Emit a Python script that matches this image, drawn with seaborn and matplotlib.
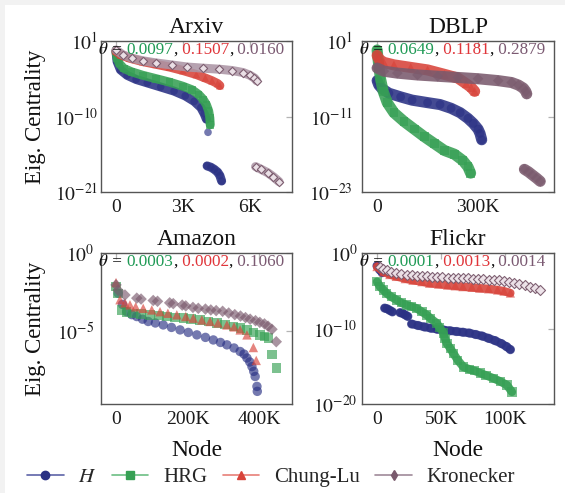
import matplotlib
matplotlib.use("Agg")
import matplotlib.pyplot as plt
import matplotlib.transforms as mtransforms
from matplotlib.lines import Line2D
from matplotlib.patches import Rectangle
from matplotlib.ticker import NullLocator
import pandas as pd
import seaborn as sns

sns.set_theme(style="white")
plt.rcParams["font.family"] = ["Liberation Serif", "DejaVu Serif"]
plt.rcParams["mathtext.fontset"] = "stix"

# ---------------------------------------------------------------- data
models = ["H", "HRG", "Chung-Lu", "Kronecker"]
legend_labels = ["$H$", "HRG", "Chung-Lu", "Kronecker"]

# Arxiv
arxiv_h_x = [0, 50, 200, 500, 900, 1400, 2000, 2600, 3100, 3500, 3800, 3950, 4050]
arxiv_h_y = [3.2e-1, 1.0e-2, 6.3e-4, 1.0e-4, 2.5e-5, 7.9e-6, 2.0e-6, 5.0e-7, 1.0e-7, 1.6e-8, 2.0e-9, 2.5e-10, 4.0e-11]
arxiv_h_drop_x = [4120]
arxiv_h_drop_y = [5.0e-13]
arxiv_h_tail_x = [4080, 4250, 4400, 4550, 4650, 4730]
arxiv_h_tail_y = [6.3e-18, 4.0e-18, 2.0e-18, 7.9e-19, 2.5e-19, 4.0e-20]
arxiv_hrg_x = [0, 50, 150, 350, 700, 1200, 1800, 2400, 3000, 3400, 3700, 3900, 4050, 4150, 4200, 4220]
arxiv_hrg_y = [3.2e-1, 3.2e-2, 5.0e-3, 1.0e-3, 3.2e-4, 1.0e-4, 3.2e-5, 1.0e-5, 2.5e-6, 7.9e-7, 1.6e-7,
               3.2e-8, 5.0e-9, 6.3e-10, 6.3e-11, 6.3e-12]
arxiv_cl_x = [0, 200, 600, 1200, 1800, 2400, 3000, 3600, 4000, 4300, 4550, 4650]
arxiv_cl_y = [3.2e-1, 1.0e-1, 3.2e-2, 1.0e-2, 4.0e-3, 1.6e-3, 5.0e-4, 1.3e-4, 4.0e-5, 1.6e-5, 6.3e-6, 3.2e-6]
arxiv_kron_x = [0, 300, 700, 1200, 1800, 2500, 3200, 3900, 4600, 5200, 5700, 6000, 6200, 6300]
arxiv_kron_y = [5.0e-1, 1.0e-1, 3.2e-2, 1.3e-2, 6.3e-3, 3.2e-3, 1.6e-3, 1.1e-3, 7.9e-4, 5.0e-4, 2.5e-4,
                1.0e-4, 4.0e-5, 1.6e-5]
arxiv_kron_tail_x = [6250, 6500, 6800, 7050, 7300]
arxiv_kron_tail_y = [5.0e-18, 2.0e-18, 6.3e-19, 1.6e-19, 3.2e-20]
arxiv_theta = ["0.0097", "0.1507", "0.0160"]
arxiv_xticks = [0, 3000, 6000]
arxiv_xticklabels = ["0", "3K", "6K"]
arxiv_yticks = [1e1, 1e-10, 1e-21]
arxiv_yticklabels = ["$10^{1}$", "$10^{-10}$", "$10^{-21}$"]

# DBLP
dblp_h_x = [0, 5e3, 15e3, 35e3, 70e3, 104e3, 150e3, 187e3, 220e3, 247e3, 270e3, 286e3, 300e3, 306e3, 311e3]
dblp_h_y = [5.0e-6, 1.0e-6, 2.5e-7, 5.0e-8, 1.3e-8, 4.0e-9, 1.6e-9, 7.9e-10, 2.0e-10, 4.0e-11, 5.0e-12,
            7.9e-13, 1.0e-13, 2.0e-14, 2.0e-15]
dblp_hrg_x = [0, 2e3, 5e3, 10e3, 18e3, 30e3, 50e3, 80e3, 110e3, 140e3, 170e3, 200e3, 230e3, 255e3, 270e3, 278e3]
dblp_hrg_y = [3.7e-1, 3.2e-2, 1.0e-3, 1.0e-5, 1.0e-7, 1.6e-9, 4.0e-11, 1.6e-12, 1.0e-13, 6.3e-15, 5.0e-16,
              4.0e-17, 1.0e-17, 1.0e-18, 1.0e-19, 1.0e-20]
dblp_cl_x = [0, 5e3, 20e3, 50e3, 100e3, 150e3, 200e3, 240e3, 265e3, 280e3, 290e3]
dblp_cl_y = [5.0e-2, 1.3e-2, 4.0e-3, 1.6e-3, 6.3e-4, 2.5e-4, 5.0e-5, 1.3e-5, 1.6e-6, 4.0e-7, 1.0e-7]
dblp_kron_x = [0, 20e3, 60e3, 120e3, 180e3, 240e3, 300e3, 360e3, 400e3, 420e3, 435e3, 442e3, 445e3]
dblp_kron_y = [5.0e-4, 1.6e-4, 7.9e-5, 4.0e-5, 2.5e-5, 1.6e-5, 1.0e-5, 5.0e-6, 2.5e-6, 1.0e-6, 3.2e-7,
               1.0e-7, 4.0e-8]
dblp_kron_tail_x = [438e3, 450e3, 462e3, 474e3, 485e3]
dblp_kron_tail_y = [4.0e-20, 1.6e-20, 5.0e-21, 1.6e-21, 5.0e-22]
dblp_theta = ["0.0649", "0.1181", "0.2879"]
dblp_xticks = [0, 300e3]
dblp_xticklabels = ["0", "300K"]
dblp_yticks = [1e1, 1e-11, 1e-23]
dblp_yticklabels = ["$10^{1}$", "$10^{-11}$", "$10^{-23}$"]

# Amazon
amazon_h_x = [6e3, 18e3, 30e3, 44e3, 58e3, 74e3, 90e3, 110e3, 132e3, 155e3, 179e3, 202e3, 226e3, 250e3,
              272e3, 292e3, 310e3, 330e3, 347e3, 358e3, 366e3, 374e3, 380e3, 385e3, 389e3, 394e3, 395e3]
amazon_h_y = [2.6e-3, 5.0e-4, 1.7e-4, 1.1e-4, 8.3e-5, 5.6e-5, 4.0e-5, 3.2e-5, 2.4e-5, 1.66e-5, 1.15e-5,
              7.9e-6, 5.5e-6, 3.8e-6, 2.6e-6, 1.8e-6, 1.26e-6, 7.9e-7, 4.7e-7, 3.2e-7, 1.8e-7, 1.0e-7,
              5.1e-8, 2.5e-8, 1.17e-8, 2.7e-9, 1.3e-9]
amazon_hrg_x = [0, 6e3, 16e3, 30e3, 48e3, 70e3, 95e3, 120e3, 142e3, 165e3, 188e3, 210e3, 235e3, 258e3,
                282e3, 305e3, 328e3, 348e3, 366e3, 385e3, 403e3, 415e3, 426e3, 436e3, 448e3]
amazon_hrg_y = [6.9e-3, 2.6e-3, 2.2e-4, 1.6e-4, 1.35e-4, 1.2e-4, 1.07e-4, 9.5e-5, 8.3e-5, 7.4e-5, 6.5e-5,
                5.8e-5, 5.1e-5, 4.0e-5, 3.1e-5, 2.5e-5, 1.9e-5, 1.5e-5, 1.15e-5, 7.9e-6, 5.5e-6, 4.5e-6,
                3.4e-6, 2.9e-7, 4.1e-8]
amazon_cl_x = [0, 11e3, 25e3, 39e3, 55e3, 76e3, 100e3, 123e3, 145e3, 170e3, 195e3, 216e3, 240e3, 263e3,
               285e3, 310e3, 330e3, 347e3, 366e3, 384e3, 392e3]
amazon_cl_y = [1.26e-2, 1.0e-3, 6.3e-4, 4.7e-4, 3.5e-4, 2.8e-4, 2.2e-4, 1.7e-4, 1.35e-4, 1.07e-4, 8.3e-5,
               6.5e-5, 5.0e-5, 4.0e-5, 3.2e-5, 2.4e-5, 1.8e-5, 1.15e-5, 5.5e-6, 8.5e-7, 1.26e-7]
amazon_kron_x = [0, 6e3, 25e3, 58e3, 70e3, 104e3, 116e3, 150e3, 160e3, 185e3, 195e3, 215e3, 230e3, 250e3,
                 265e3, 280e3, 298e3, 315e3, 332e3, 348e3, 362e3, 375e3, 390e3, 402e3, 415e3, 425e3,
                 436e3, 448e3]
amazon_kron_y = [8.9e-3, 4.0e-3, 2.0e-3, 1.26e-3, 1.1e-3, 8.9e-4, 7.9e-4, 6.3e-4, 5.6e-4, 4.5e-4, 4.0e-4,
                 3.2e-4, 2.8e-4, 2.5e-4, 2.2e-4, 2.0e-4, 1.8e-4, 1.4e-4, 1.1e-4, 8.9e-5, 7.1e-5, 5.6e-5,
                 4.5e-5, 3.5e-5, 2.8e-5, 2.0e-5, 1.26e-5, 2.0e-6]
amazon_theta = ["0.0003", "0.0002", "0.1060"]
amazon_xticks = [0, 200e3, 400e3]
amazon_xticklabels = ["0", "200K", "400K"]
amazon_yticks = [1e0, 1e-5]
amazon_yticklabels = ["$10^{0}$", "$10^{-5}$"]

# Flickr
flickr_h_top_x = [0, 2e3, 4e3]
flickr_h_top_y = [2.0e-2, 6.3e-3, 2.5e-3]
flickr_h_mid1_x = [6e3, 8e3, 10e3, 12e3]
flickr_h_mid1_y = [5.0e-8, 4.0e-8, 2.5e-8, 1.6e-8]
flickr_h_mid2_x = [18e3, 20e3, 22e3, 24e3]
flickr_h_mid2_y = [1.26e-8, 1.0e-8, 6.3e-9, 4.0e-9]
flickr_h_x = [27e3, 32e3, 37e3, 42e3, 47e3, 52e3, 57e3, 62e3, 67e3, 72e3, 77e3, 82e3, 87e3, 92e3, 97e3,
              101e3, 104e3]
flickr_h_y = [4.0e-10, 2.5e-10, 1.6e-10, 1.1e-10, 7.9e-11, 6.3e-11, 5.0e-11, 4.0e-11, 3.2e-11, 2.5e-11,
              1.6e-11, 1.0e-11, 5.0e-12, 2.5e-12, 1.0e-12, 4.0e-13, 1.6e-13]
flickr_hrg_x = [0, 2.3e3, 5e3, 7.6e3, 11e3, 15.4e3, 19e3, 23.2e3, 27e3, 31e3, 35e3, 38.8e3, 42e3, 46.6e3,
                49e3, 51.8e3, 53e3, 54.5e3, 57e3, 59.6e3, 63e3, 67.4e3, 72e3, 76e3, 80.5e3, 85e3, 90.9e3,
                96e3, 101.3e3, 105.2e3]
flickr_hrg_y = [1.6e-4, 3.5e-5, 1.26e-5, 4.6e-6, 1.6e-6, 5.9e-7, 2.5e-7, 1.26e-7, 7.9e-8, 4.7e-8, 1.6e-8,
                6.3e-9, 2.0e-9, 5.0e-10, 1.26e-10, 2.5e-11, 5.0e-12, 1.0e-12, 2.5e-13, 5.0e-14, 6.3e-15,
                7.9e-16, 4.0e-16, 2.5e-16, 1.26e-16, 6.3e-17, 2.5e-17, 1.0e-17, 3.2e-18, 4.0e-19]
flickr_cl_x = [0, 5e3, 10e3, 15e3, 22e3, 28e3, 35e3, 41e3, 48e3, 55e3, 61e3, 67e3, 74e3, 80e3, 87e3, 94e3,
               99e3, 104e3]
flickr_cl_y = [1.6e-2, 3.2e-3, 1.4e-3, 7.9e-4, 4.0e-4, 2.5e-4, 1.6e-4, 1.0e-4, 7.6e-5, 5.6e-5, 4.5e-5,
               3.5e-5, 2.8e-5, 2.2e-5, 1.8e-5, 1.26e-5, 8.9e-6, 5.0e-6]
flickr_kron_x = [2e3, 5e3, 8e3, 11e3, 15e3, 19e3, 23e3, 27e3, 31e3, 35e3, 39e3, 43e3, 47e3, 51e3, 55e3,
                 59e3, 63e3, 67e3, 71e3, 75e3, 79e3, 83e3, 87e3, 91e3, 95e3, 99e3, 103e3, 107e3, 111e3,
                 115e3, 119e3, 123e3, 127e3]
flickr_kron_y = [1.26e-2, 7.9e-3, 5.0e-3, 3.2e-3, 2.0e-3, 1.6e-3, 1.26e-3, 1.1e-3, 1.0e-3, 8.9e-4, 7.9e-4,
                 7.1e-4, 6.3e-4, 6.0e-4, 5.6e-4, 5.2e-4, 5.0e-4, 4.5e-4, 4.2e-4, 3.8e-4, 3.5e-4, 3.2e-4,
                 2.8e-4, 2.6e-4, 2.4e-4, 2.0e-4, 1.6e-4, 1.1e-4, 7.1e-5, 5.0e-5, 3.5e-5, 2.2e-5, 1.26e-5]
flickr_theta = ["0.0001", "0.0013", "0.0014"]
flickr_xticks = [0, 50e3, 100e3]
flickr_xticklabels = ["0", "50K", "100K"]
flickr_yticks = [1e0, 1e-10, 1e-20]
flickr_yticklabels = ["$10^{0}$", "$10^{-10}$", "$10^{-20}$"]

# ---------------------------------------------------------------- styles
colors = {"H": "#2a3184", "HRG": "#36a054", "Chung-Lu": "#d8433a", "Kronecker": "#7a5a6d"}
line_colors = {"H": "#5d63a8", "HRG": "#6cbf84", "Chung-Lu": "#e77f78", "Kronecker": "#a08a99"}
theta_colors = ["#1f9a55", "#e0353a", "#7b5a72"]
markers = {"H": "o", "HRG": "s", "Chung-Lu": "^", "Kronecker": "D"}
legend_markers = {"H": "o", "HRG": "s", "Chung-Lu": "^", "Kronecker": "d"}


def frame(model, segments):
    parts = []
    for k, (xs, ys) in enumerate(segments):
        parts.append(pd.DataFrame({"model": model, "seg": k, "node": xs, "ec": ys}))
    return pd.concat(parts, ignore_index=True)


W, H = 565, 493
fig = plt.figure(figsize=(W / 100, H / 100), dpi=100)
fig.patch.set_facecolor("#f2f2f2")
fig.patches.append(Rectangle((5 / W, 0), 1, 1 - 5 / H, transform=fig.transFigure,
                             facecolor="white", edgecolor="none", zorder=-10))


def make_ax(l, t, r, b):
    return fig.add_axes([l / W, 1 - b / H, (r - l) / W, (b - t) / H])


panels = [
    dict(title="Arxiv", box=(101, 41, 292, 192), xlim=(-670, 7880), ylim=(1e-21, 1e1),
         xticks=arxiv_xticks, xticklabels=arxiv_xticklabels,
         yticks=arxiv_yticks, yticklabels=arxiv_yticklabels, ypad=2.0, theta=arxiv_theta,
         size=30, lw=6.5, open_kron=True, xlabel=False, ylabel=True,
         series={"H": [(arxiv_h_x, arxiv_h_y), (arxiv_h_drop_x, arxiv_h_drop_y),
                       (arxiv_h_tail_x, arxiv_h_tail_y)],
                 "HRG": [(arxiv_hrg_x, arxiv_hrg_y)],
                 "Chung-Lu": [(arxiv_cl_x, arxiv_cl_y)],
                 "Kronecker": [(arxiv_kron_x, arxiv_kron_y), (arxiv_kron_tail_x, arxiv_kron_tail_y)]},
         band={"H": True, "HRG": True, "Chung-Lu": True, "Kronecker": True}),
    dict(title="DBLP", box=(362, 41, 554, 192), xlim=(-45e3, 526e3), ylim=(1e-23, 1e1),
         xticks=dblp_xticks, xticklabels=dblp_xticklabels,
         yticks=dblp_yticks, yticklabels=dblp_yticklabels, ypad=6.5, theta=dblp_theta,
         size=40, lw=8.0, open_kron=False, xlabel=False, ylabel=False,
         series={"H": [(dblp_h_x, dblp_h_y)],
                 "HRG": [(dblp_hrg_x, dblp_hrg_y)],
                 "Chung-Lu": [(dblp_cl_x, dblp_cl_y)],
                 "Kronecker": [(dblp_kron_x, dblp_kron_y), (dblp_kron_tail_x, dblp_kron_tail_y)]},
         band={"H": True, "HRG": True, "Chung-Lu": True, "Kronecker": True}),
    dict(title="Amazon", box=(101, 253, 292, 404), xlim=(-42e3, 492e3), ylim=(2e-10, 1e0),
         xticks=amazon_xticks, xticklabels=amazon_xticklabels,
         yticks=amazon_yticks, yticklabels=amazon_yticklabels, ypad=5.0, theta=amazon_theta,
         size=46, lw=0, open_kron=False, xlabel=True, ylabel=True,
         series={"H": [(amazon_h_x, amazon_h_y)],
                 "HRG": [(amazon_hrg_x, amazon_hrg_y)],
                 "Chung-Lu": [(amazon_cl_x, amazon_cl_y)],
                 "Kronecker": [(amazon_kron_x, amazon_kron_y)]},
         band={"H": False, "HRG": False, "Chung-Lu": False, "Kronecker": False}),
    dict(title="Flickr", box=(362, 253, 554, 404), xlim=(-11.7e3, 138e3), ylim=(1e-20, 1e0),
         xticks=flickr_xticks, xticklabels=flickr_xticklabels,
         yticks=flickr_yticks, yticklabels=flickr_yticklabels, ypad=3.0, theta=flickr_theta,
         size=44, lw=6.0, open_kron=True, xlabel=True, ylabel=False,
         series={"H": [(flickr_h_top_x, flickr_h_top_y), (flickr_h_mid1_x, flickr_h_mid1_y),
                       (flickr_h_mid2_x, flickr_h_mid2_y), (flickr_h_x, flickr_h_y)],
                 "HRG": [(flickr_hrg_x, flickr_hrg_y)],
                 "Chung-Lu": [(flickr_cl_x, flickr_cl_y)],
                 "Kronecker": [(flickr_kron_x, flickr_kron_y)]},
         band={"H": True, "HRG": True, "Chung-Lu": True, "Kronecker": False}),
]

renderer = fig.canvas.get_renderer()

for p in panels:
    ax = make_ax(*p["box"])
    ax.set_yscale("log")
    ax.set_xlim(*p["xlim"])
    ax.set_ylim(*p["ylim"])

    for z, model in enumerate(models):
        df = frame(model, p["series"][model])
        col = colors[model]
        open_mk = model == "Kronecker" and p["open_kron"]
        for k, g in df.groupby("seg"):
            if p["band"][model] and len(g) > 1:
                band_col = "#ac95a5" if open_mk else col
                sns.lineplot(data=g, x="node", y="ec", ax=ax, sort=False, estimator=None,
                             color=band_col, linewidth=p["lw"], alpha=0.88, legend=False,
                             solid_capstyle="round", solid_joinstyle="round", zorder=2 + z)
            if open_mk:
                sns.scatterplot(data=g, x="node", y="ec", ax=ax, marker=markers[model],
                                s=p["size"] * 0.6, color="#eee4ea", edgecolor=col, linewidth=0.8,
                                alpha=0.95, legend=False, zorder=2.5 + z)
            else:
                s = p["size"] * (0.75 if model == "Kronecker" else 1.0)
                sns.scatterplot(data=g, x="node", y="ec", ax=ax, marker=markers[model],
                                s=s, color=col, edgecolor="none", alpha=0.65,
                                legend=False, zorder=2.5 + z)

    ax.set_xticks(p["xticks"])
    ax.set_xticklabels(p["xticklabels"])
    ax.set_yticks(p["yticks"])
    ax.set_yticklabels(p["yticklabels"])
    ax.yaxis.set_minor_locator(NullLocator())
    ax.xaxis.set_minor_locator(NullLocator())
    ax.set_xlabel("")
    ax.set_ylabel("")
    ax.tick_params(axis="both", which="major", direction="in", length=4.5, width=0.9,
                   color="#b4b4b4", top=True, right=True, labelsize=14, labelcolor="#1a1a1a")
    ax.tick_params(axis="x", pad=5.0)
    ax.tick_params(axis="y", pad=p["ypad"])
    for sp in ax.spines.values():
        sp.set_color("#555555")
        sp.set_linewidth(1.0)
    ax.set_title(p["title"], fontsize=17, pad=6, color="#111111")

    # theta annotation, each value in its model colour
    pieces = [(r"$\theta$", "#111111"), (" = ", "#111111"),
              (p["theta"][0], theta_colors[0]), (",", "#111111"),
              (" " + p["theta"][1], theta_colors[1]), (",", "#111111"),
              (" " + p["theta"][2], theta_colors[2])]
    trans = mtransforms.offset_copy(ax.transAxes, fig=fig, x=-3, y=-13, units="dots")
    for txt, c in pieces:
        t = ax.text(0, 1, txt, transform=trans, fontsize=12.3, color=c, va="baseline",
                    ha="left", zorder=10)
        ext = t.get_window_extent(renderer)
        trans = mtransforms.offset_copy(t.get_transform(), fig=fig, x=ext.width, units="dots")

    l, t_, r, b = p["box"]
    if p["ylabel"]:
        fig.text(35 / W, 1 - (t_ + b) / 2 / H, "Eig. Centrality", rotation=90, fontsize=16.5,
                 ha="center", va="center", color="#111111")
    if p["xlabel"]:
        fig.text((l + r) / 2 / W, 1 - 450 / H, "Node", fontsize=17, ha="center",
                 va="center", color="#111111")

handles = [Line2D([], [], color=line_colors[m], lw=1.2, marker=legend_markers[m],
                  markersize=6 if m != "Kronecker" else 5.5, markerfacecolor=colors[m],
                  markeredgecolor=colors[m]) for m in models]
fig.legend(handles, legend_labels, loc="center", bbox_to_anchor=(271 / W, 1 - 477 / H),
           ncol=4, frameon=False, fontsize=15, handlelength=1.75, handletextpad=0.7,
           columnspacing=0.75, borderaxespad=0)

fig.savefig("out.png", dpi=100, facecolor=fig.get_facecolor())
